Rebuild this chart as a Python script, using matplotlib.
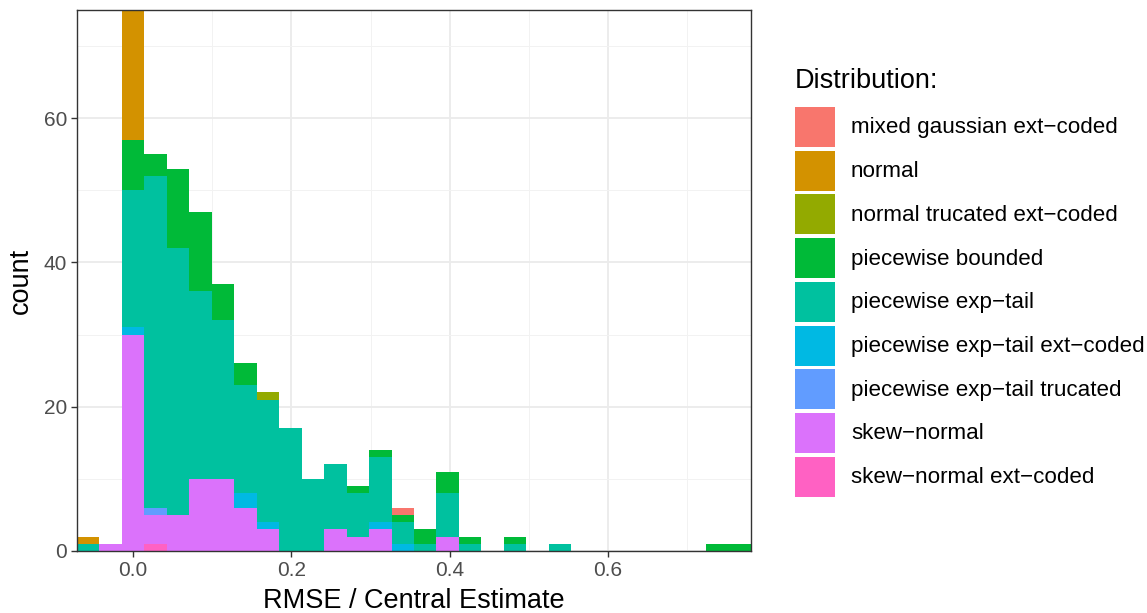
import numpy as np
import matplotlib.pyplot as plt
from matplotlib.patches import Rectangle

plt.rcParams['font.family'] = ['Liberation Sans', 'DejaVu Sans']

# bin centres: k * width for k = -2 .. 27
bin_width = 0.02838
bin_index = np.arange(-2, 28)

distributions = [
    "mixed gaussian ext\u2212coded",
    "normal",
    "normal trucated ext\u2212coded",
    "piecewise bounded",
    "piecewise exp\u2212tail",
    "piecewise exp\u2212tail ext\u2212coded",
    "piecewise exp\u2212tail trucated",
    "skew\u2212normal",
    "skew\u2212normal ext\u2212coded",
]
colors = ["#F8766D", "#D39200", "#93AA00", "#00BA38", "#00C19F",
          "#00B9E3", "#619CFF", "#DB72FB", "#FF61C3"]

# counts per bin (k = -2 .. 27)
mixed_gauss = [0,0,0,0,0,0,0,0,0,0, 0,0,0,0,1,0,0,0,0,0, 0,0,0,0,0,0,0,0,0,0]
normal      = [1,0,40,0,0,0,0,0,0,0, 0,0,0,0,0,0,0,0,0,0, 0,0,0,0,0,0,0,0,0,0]
normal_trunc= [0,0,0,0,0,0,0,0,1,0, 0,0,0,0,0,0,0,0,0,0, 0,0,0,0,0,0,0,0,0,0]
pw_bounded  = [0,0,7,3,11,11,5,3,0,0, 0,0,1,1,1,2,3,1,0,1, 0,0,0,0,0,0,0,0,1,1]
pw_exptail  = [1,0,19,46,37,26,22,15,17,17, 10,9,6,9,3,1,6,1,0,1, 0,1,0,0,0,0,0,0,0,0]
pw_exp_ext  = [0,0,1,0,0,0,0,2,1,0, 0,0,0,1,1,0,0,0,0,0, 0,0,0,0,0,0,0,0,0,0]
pw_exp_trunc= [0,0,0,1,0,0,0,0,0,0, 0,0,0,0,0,0,0,0,0,0, 0,0,0,0,0,0,0,0,0,0]
skew_normal = [0,1,30,4,5,10,10,6,3,0, 0,3,2,3,0,0,2,0,0,0, 0,0,0,0,0,0,0,0,0,0]
skew_ext    = [0,0,0,1,0,0,0,0,0,0, 0,0,0,0,0,0,0,0,0,0, 0,0,0,0,0,0,0,0,0,0]

series = [mixed_gauss, normal, normal_trunc, pw_bounded, pw_exptail,
          pw_exp_ext, pw_exp_trunc, skew_normal, skew_ext]

W, H = 1147, 613
fig = plt.figure(figsize=(W / 100, H / 100), dpi=100)
ax = fig.add_axes([77 / W, (H - 551) / H, 674 / W, 541 / H])

x = bin_index * bin_width
bottom = np.zeros(len(x))
# ggplot stacks the first level on top, so draw from the last one up
for name, col, vals in reversed(list(zip(distributions, colors, series))):
    vals = np.array(vals, dtype=float)
    ax.bar(x, vals, width=bin_width, bottom=bottom, color=col,
           linewidth=0, align='center', zorder=2)
    bottom += vals

ax.set_xlim(x[0] - bin_width / 2, x[-1] + bin_width / 2)
ax.set_ylim(0, 75)

ax.set_xticks([0.0, 0.2, 0.4, 0.6])
ax.set_xticklabels(["0.0", "0.2", "0.4", "0.6"])
ax.set_xticks([0.1, 0.3, 0.5, 0.7], minor=True)
ax.set_yticks([0, 20, 40, 60])
ax.set_yticks([10, 30, 50, 70], minor=True)

ax.grid(which='major', color='#EBEBEB', linewidth=1.3, zorder=0)
ax.grid(which='minor', color='#F2F2F2', linewidth=0.7, zorder=0)
ax.set_axisbelow(True)
for s in ax.spines.values():
    s.set_color('#333333')
    s.set_linewidth(1.0)
    s.set_zorder(5)
ax.tick_params(which='major', length=4, width=1.0, color='#333333',
               labelcolor='#4D4D4D', labelsize=15, pad=3)
ax.tick_params(which='minor', length=0)

ax.set_xlabel("RMSE / Central Estimate", fontsize=19.5, color='black', labelpad=6)
ax.set_ylabel("count", fontsize=19.5, color='black', labelpad=7)

# legend drawn by hand to follow ggplot's layout
fig.text(795 / W, 1 - 81 / H, "Distribution:", fontsize=19.5,
         ha='left', va='center', color='black')
for i, (name, col) in enumerate(zip(distributions, colors)):
    top = 107 + i * 43.7
    fig.patches.append(Rectangle((795 / W, 1 - (top + 40) / H), 40 / W, 40 / H,
                                 transform=fig.transFigure, color=col,
                                 linewidth=0))
    fig.text(851 / W, 1 - (top + 21) / H, name, fontsize=16.1,
             ha='left', va='center', color='black')

fig.savefig("out.png", dpi=100)
